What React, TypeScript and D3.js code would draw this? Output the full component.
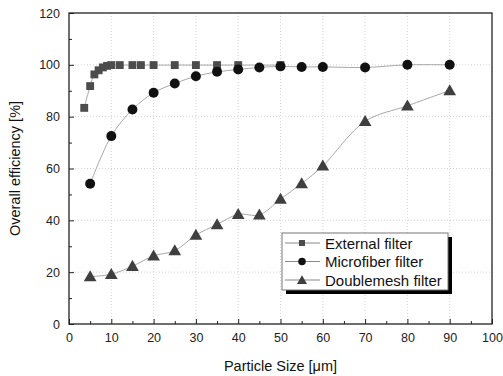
import { useRef, useEffect } from 'react';
import * as d3 from 'd3';

const externalX = [3.6, 5, 6, 7, 8, 9, 10, 12, 15, 17, 20, 25, 30, 35, 40, 50];
const externalY = [83.4, 91.8, 96.3, 97.9, 99, 99.6, 99.9, 99.9, 99.9, 99.9, 99.9, 99.9, 99.9, 99.9, 99.9, 99.9];

const microX = [5, 10, 15, 20, 25, 30, 35, 40, 45, 50, 55, 60, 70, 80, 90];
const microY = [54.1, 72.5, 82.8, 89.2, 92.8, 95.6, 97.3, 98.2, 99, 99.4, 99.2, 99.2, 99, 100, 100];

const doubleX = [5, 10, 15, 20, 25, 30, 35, 40, 45, 50, 55, 60, 70, 80, 90];
const doubleY = [18.3, 19.2, 22.3, 26.3, 28.3, 34.3, 38.4, 42.3, 42.1, 48.2, 54.2, 61, 78.2, 84.2, 90.1];

const xTicks = [0, 10, 20, 30, 40, 50, 60, 70, 80, 90, 100];
const yTicks = [0, 20, 40, 60, 80, 100, 120];

const legendLabels = ['External filter', 'Microfiber filter', 'Doublemesh filter'];

type Pt = [number, number];

export default function App() {
  const svgRef = useRef<SVGSVGElement>(null);

  useEffect(() => {
    if (!svgRef.current) return;
    const svg = d3.select(svgRef.current);
    svg.selectAll('*').remove();

    const width = 503;
    const height = 376;
    const margin = { top: 13, right: 11, bottom: 52, left: 69 };
    const innerW = width - margin.left - margin.right;
    const innerH = height - margin.top - margin.bottom;

    svg.attr('viewBox', `0 0 ${width} ${height}`);
    svg.append('rect').attr('width', width).attr('height', height).attr('fill', '#fff');

    const x = d3.scaleLinear().domain([0, 100]).range([0, innerW]);
    const y = d3.scaleLinear().domain([0, 120]).range([innerH, 0]);

    const g = svg.append('g').attr('transform', `translate(${margin.left},${margin.top})`);
    const font = 'Liberation Sans, Arial, sans-serif';

    // Grid
    g.append('g')
      .selectAll('line')
      .data(xTicks.slice(1, -1))
      .join('line')
      .attr('x1', (d) => x(d)).attr('x2', (d) => x(d))
      .attr('y1', 0).attr('y2', innerH)
      .attr('stroke', '#c8c8c8').attr('stroke-width', 0.8).attr('stroke-dasharray', '1,2');
    g.append('g')
      .selectAll('line')
      .data(yTicks.slice(1, -1))
      .join('line')
      .attr('x1', 0).attr('x2', innerW)
      .attr('y1', (d) => y(d)).attr('y2', (d) => y(d))
      .attr('stroke', '#c8c8c8').attr('stroke-width', 0.8).attr('stroke-dasharray', '1,2');

    // Axes with inward ticks
    const styleAxis = (sel: d3.Selection<SVGGElement, unknown, null, undefined>) => {
      sel.select('.domain').remove();
      sel.selectAll('line').attr('stroke', '#222').attr('stroke-width', 1);
      sel.selectAll('text').attr('fill', '#222').style('font-size', '12.5px').style('font-family', font);
    };
    const minorX = d3.range(5, 100, 10);
    const minorY = d3.range(10, 120, 20);

    g.append('g')
      .attr('transform', `translate(0,${innerH})`)
      .call(d3.axisBottom(x).tickValues(xTicks).tickSizeInner(-5).tickSizeOuter(0).tickPadding(9).tickFormat((d) => `${d}`))
      .call(styleAxis);
    g.append('g')
      .attr('transform', `translate(0,${innerH})`)
      .call(d3.axisBottom(x).tickValues(minorX).tickSizeInner(-3).tickSizeOuter(0).tickFormat(() => ''))
      .call(styleAxis);
    g.append('g')
      .call(d3.axisLeft(y).tickValues(yTicks).tickSizeInner(-5).tickSizeOuter(0).tickPadding(9).tickFormat((d) => `${d}`))
      .call(styleAxis);
    g.append('g')
      .call(d3.axisLeft(y).tickValues(minorY).tickSizeInner(-3).tickSizeOuter(0).tickFormat(() => ''))
      .call(styleAxis);

    // Frame
    g.append('rect')
      .attr('x', 0).attr('y', 0).attr('width', innerW).attr('height', innerH)
      .attr('fill', 'none').attr('stroke', '#222').attr('stroke-width', 1.3);

    const line = d3.line<Pt>()
      .x((d) => x(d[0]))
      .y((d) => y(d[1]))
      .curve(d3.curveCatmullRom.alpha(0.5));

    const ext: Pt[] = externalX.map((v, i) => [v, externalY[i]]);
    const mic: Pt[] = microX.map((v, i) => [v, microY[i]]);
    const dbl: Pt[] = doubleX.map((v, i) => [v, doubleY[i]]);

    [ext, mic, dbl].forEach((data) => {
      g.append('path')
        .datum(data)
        .attr('d', line)
        .attr('fill', 'none')
        .attr('stroke', '#a8a8a8')
        .attr('stroke-width', 1);
    });

    const square = d3.symbol().type(d3.symbolSquare).size(62);
    const circle = d3.symbol().type(d3.symbolCircle).size(78);
    const tri = d3.symbol().type(d3.symbolTriangle).size(70);

    g.append('g').selectAll('path').data(dbl).join('path')
      .attr('d', tri)
      .attr('transform', (d) => `translate(${x(d[0])},${y(d[1]) + 1})`)
      .attr('fill', '#3f3f3f');
    g.append('g').selectAll('path').data(ext).join('path')
      .attr('d', square)
      .attr('transform', (d) => `translate(${x(d[0])},${y(d[1])})`)
      .attr('fill', '#4c4c4c');
    g.append('g').selectAll('path').data(mic).join('path')
      .attr('d', circle)
      .attr('transform', (d) => `translate(${x(d[0])},${y(d[1])})`)
      .attr('fill', '#111');

    // Legend
    const lx = 282 - margin.left;
    const ly = 233 - margin.top;
    const lw = 166;
    const lh = 57;
    g.append('rect').attr('x', lx + 4).attr('y', ly + 4).attr('width', lw).attr('height', lh).attr('fill', '#000');
    g.append('rect').attr('x', lx).attr('y', ly).attr('width', lw).attr('height', lh)
      .attr('fill', '#fff').attr('stroke', '#777').attr('stroke-width', 1);
    const legendSymbols = [
      d3.symbol().type(d3.symbolSquare).size(36),
      d3.symbol().type(d3.symbolCircle).size(44),
      d3.symbol().type(d3.symbolTriangle).size(44),
    ];
    const fills = ['#4c4c4c', '#111', '#3f3f3f'];
    legendLabels.forEach((lab, i) => {
      const cy = ly + 10 + i * 18.5;
      g.append('line')
        .attr('x1', lx + 3).attr('x2', lx + 38)
        .attr('y1', cy).attr('y2', cy)
        .attr('stroke', '#888').attr('stroke-width', 1);
      g.append('path')
        .attr('d', legendSymbols[i]())
        .attr('transform', `translate(${lx + 20},${cy + (i === 2 ? 1 : 0)})`)
        .attr('fill', fills[i]);
      g.append('text')
        .attr('x', lx + 43).attr('y', cy + 5.5)
        .attr('fill', '#111').style('font-size', '15px').style('font-family', font)
        .text(lab);
    });

    // Axis titles
    svg.append('text')
      .attr('x', margin.left + innerW / 2).attr('y', 371)
      .attr('text-anchor', 'middle')
      .attr('fill', '#111').style('font-size', '14.5px').style('font-family', font)
      .text('Particle Size [\u03BCm]');
    svg.append('text')
      .attr('transform', `translate(20, ${margin.top + innerH / 2}) rotate(-90)`)
      .attr('text-anchor', 'middle')
      .attr('fill', '#111').style('font-size', '14.5px').style('font-family', font)
      .text('Overall efficiency [%]');
  }, []);

  return (
    <svg
      ref={svgRef}
      width={503}
      height={376}
      style={{ position: 'absolute', left: 0, top: 0, display: 'block' }}
    />
  );
}
